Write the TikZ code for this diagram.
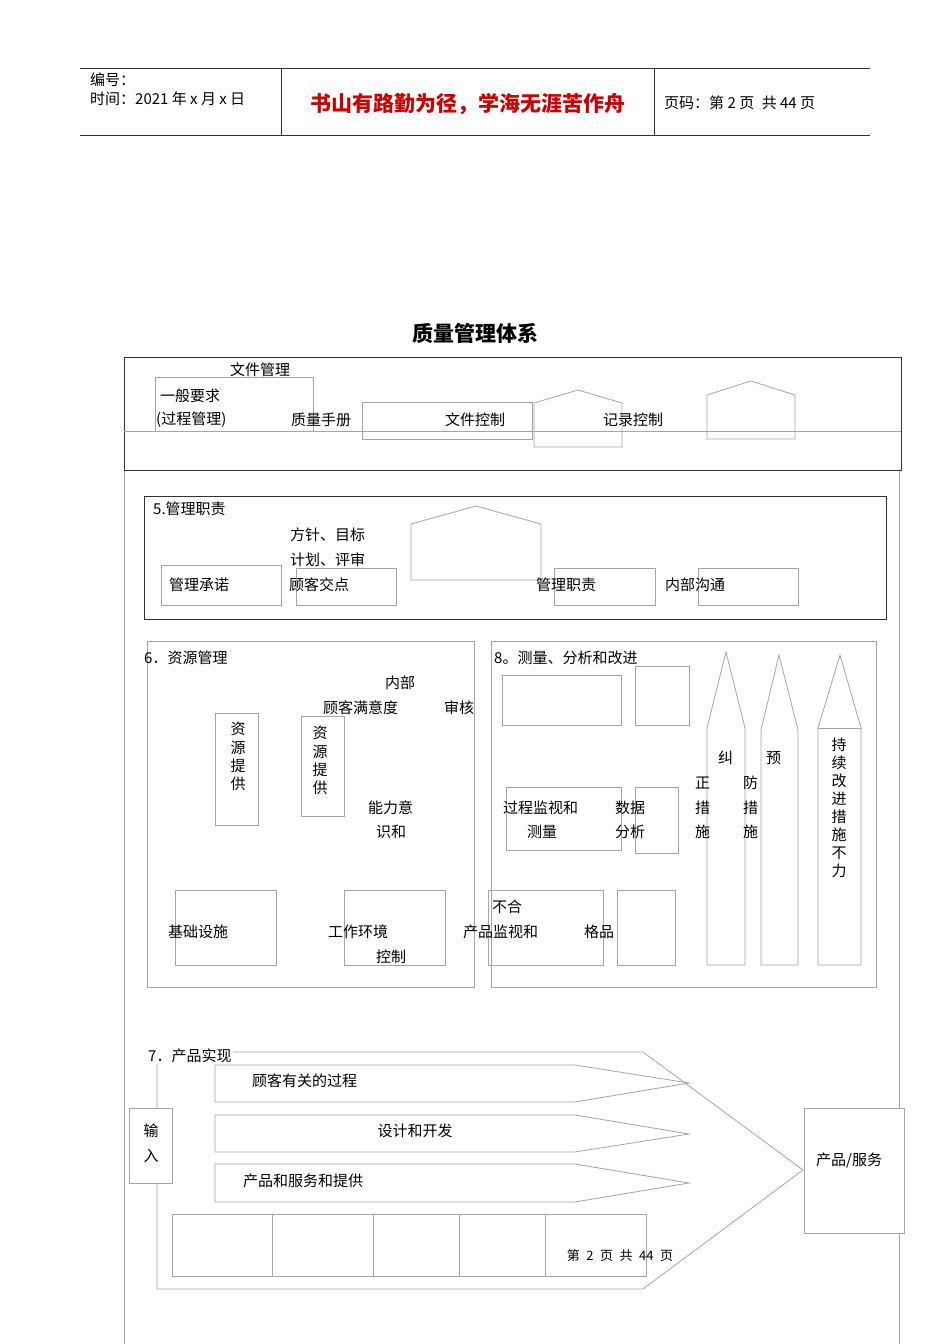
\documentclass[tikz,border=0pt]{standalone}
\usepackage{fontspec}
\setmainfont{Noto Sans CJK SC}
\begin{document}
\begin{tikzpicture}[x=1pt,y=-1pt,
 g/.style={draw=black!35,line width=0.8pt},
 d/.style={draw=black!80,line width=0.9pt},
 t/.style={font=\fontsize{15}{15}\selectfont,inner sep=0pt,anchor=west},
 tc/.style={font=\fontsize{15}{15}\selectfont,inner sep=0pt}]
\useasboundingbox[fill=white] (0,0) rectangle (950,1344);
% header
\draw[d] (80,68)--(870,68) (80,135)--(870,135) (281,68)--(281,135) (654,68)--(654,135);
\node[t] (h1) at (90,80) {编号：};
\node[t] (h2) at (90,99) {时间：2021 年 x 月 x 日};
\node[tc,text=red!80!black,font=\fontsize{21}{21}\selectfont\bfseries] (h3) at (468,104) {书山有路勤为径，学海无涯苦作舟};
\node[t] (h4) at (664,103) {页码：第 2 页\enspace 共 44 页};
\node[tc,font=\fontsize{21}{21}\selectfont\bfseries] (title) at (475,333) {质量管理体系};
% side lines
\draw[g] (124,470)--(124,1344) (899,470)--(899,1344);
% top box
\draw[d] (124,357) rectangle (901,470);
\draw[g] (124,431)--(901,431);
\draw[g] (155,377) rectangle (313,431);
\draw[g] (362,402) rectangle (532,439);
\draw[g] (534,447)--(534,403)--(578,390)--(622,403)--(622,447)--cycle;
\draw[g] (707,439)--(707,395)--(751,381)--(795,395)--(795,439)--cycle;
\node[tc] at (260,370) {文件管理};
\node[t] at (160,396) {一般要求};
\node[t] at (156,420) {(过程管理)};
\node[t] at (291,420) {质量手册};
\node[tc] at (475,420) {文件控制};
\node[t] at (603,420) {记录控制};
% section 5
\draw[d] (144,496) rectangle (886,619);
\node[t] at (153,509) {5.管理职责};
\node[t] at (290,535) {方针、目标};
\node[t] at (290,560) {计划、评审};
\draw[g] (161,565) rectangle (281,605);
\draw[g] (296,568) rectangle (396,605);
\draw[g] (411,580)--(411,524)--(476,506)--(541,524)--(541,580)--cycle;
\draw[g] (554,568) rectangle (655,605);
\draw[g] (698,568) rectangle (798,605);
\node[t] at (169,585) {管理承诺};
\node[t] at (289,585) {顾客交点};
\node[t] at (536,585) {管理职责};
\node[t] at (665,585) {内部沟通};
% section 6
\draw[g] (147,641) rectangle (474,987);
\node[t] at (144,658) {6．资源管理};
\node[tc] at (400,683) {内部};
\node[t] at (323,708) {顾客满意度};
\node[t] at (444,708) {审核};
\draw[g] (215,713) rectangle (258,825);
\draw[g] (301,716) rectangle (344,816);
\foreach \c [count=\i] in {资,源,提,供}{
 \node[tc] at (238,711+18.3*\i) {\c};
 \node[tc] at (320,715+18.3*\i) {\c};}
\node[t] at (368,808) {能力意};
\node[t] at (376,832) {识和};
\draw[g] (175,890) rectangle (276,965);
\draw[g] (344,890) rectangle (445,965);
\node[t] at (168,932) {基础设施};
\node[t] at (328,932) {工作环境};
\node[t] at (376,957) {控制};
% section 8
\draw[g] (491,641) rectangle (876,987);
\node[t] at (494,658) {8。测量、分析和改进};
\draw[g] (502,675) rectangle (621,725);
\draw[g] (635,666) rectangle (689,725);
\draw[g] (506,787) rectangle (621,850);
\draw[g] (635,787) rectangle (678,853);
\draw[g] (488,890) rectangle (603,965);
\draw[g] (617,890) rectangle (675,965);
\node[t] at (503,808) {过程监视和};
\node[t] at (527,832) {测量};
\node[t] at (615,808) {数据};
\node[t] at (615,832) {分析};
\node[t] at (492,907) {不合};
\node[t] at (463,932) {产品监视和};
\node[t] at (584,932) {格品};
\draw[g] (707,965)--(707,728)--(726,652)--(745,728)--(745,965)--cycle;
\draw[g] (761,965)--(761,730)--(779,655)--(798,730)--(798,965)--cycle;
\draw[g] (818,965)--(818,728)--(840,655)--(861,728)--(861,965)--cycle;
\draw[g] (818,728)--(861,728);
\node[t] at (718,758) {纠};
\node[t] at (695,783) {正};
\node[t] at (695,808) {措};
\node[t] at (695,832) {施};
\node[t] at (766,758) {预};
\node[t] at (743,783) {防};
\node[t] at (743,808) {措};
\node[t] at (743,832) {施};
\foreach \c [count=\i] in {持,续,改,进,措,施,不,力}
 \node[tc] at (839,727+18*\i) {\c};
% section 7
\draw[g] (157,1052)--(643,1052)--(803,1170)--(643,1289)--(157,1289)--cycle;
\node[t,fill=white,inner sep=1pt] at (147,1056) {7．产品实现};
\draw[g] (215,1065)--(575,1065)--(689,1083)--(575,1102)--(215,1102)--cycle;
\draw[g] (215,1115)--(575,1115)--(689,1134)--(575,1152)--(215,1152)--cycle;
\draw[g] (215,1164)--(575,1164)--(689,1183)--(575,1202)--(215,1202)--cycle;
\node[t] at (252,1081) {顾客有关的过程};
\node[tc] at (415,1131) {设计和开发};
\node[t] at (243,1181) {产品和服务和提供};
\draw[g,fill=white] (129,1108) rectangle (172,1183);
\node[tc] at (151,1131) {输};
\node[tc] at (151,1156) {入};
\draw[g,fill=white] (804,1108) rectangle (904,1233);
\node[t] at (816,1161) {产品/服务};
\draw[g] (172,1214) rectangle (646,1276);
\draw[g] (272,1214)--(272,1276) (373,1214)--(373,1276) (459,1214)--(459,1276) (545,1214)--(545,1276);
\node[tc,font=\fontsize{13}{13}\selectfont] at (620,1256) {第\enspace2\enspace 页\enspace 共\enspace 44\enspace 页};
\end{tikzpicture}
\end{document}
